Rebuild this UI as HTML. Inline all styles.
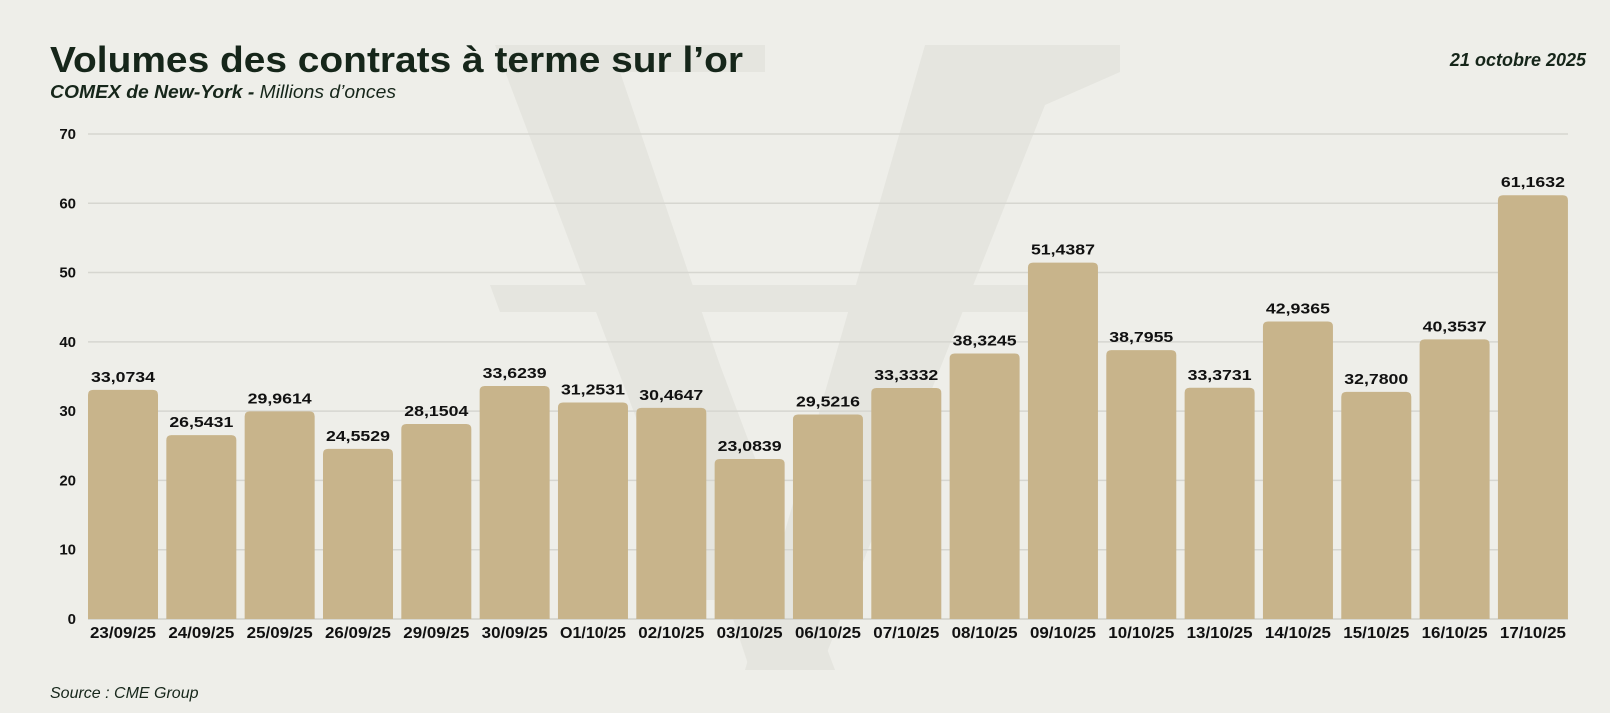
<!DOCTYPE html>
<html><head><meta charset="utf-8"><style>
html,body{margin:0;padding:0;background:#eeeee9;}
svg{display:block;}
text{font-family:"Liberation Sans",sans-serif;}
</style></head><body>
<svg width="1610" height="713" xmlns="http://www.w3.org/2000/svg">
<rect width="1610" height="713" fill="#eeeee9"/>
<g fill="#e5e5df">
<polygon points="495,45 765,45 765,72 620,72 800,600 705,600"/>
<polygon points="925,45 1120,45 1120,72 1045,105 820,670 745,670"/>
<polygon points="560,100 620,100 835,670 750,670"/>
<polygon points="490,285 1075,285 1068,312 500,312"/>
</g>
<text x="50" y="72" font-size="36" font-weight="bold" fill="#16261a" textLength="693" lengthAdjust="spacingAndGlyphs">Volumes des contrats à terme sur l’or</text>
<text x="50" y="98" font-size="18" font-style="italic" fill="#16261a" textLength="346" lengthAdjust="spacingAndGlyphs"><tspan font-weight="bold">COMEX de New-York - </tspan>Millions d’onces</text>
<text x="1586" y="66" font-size="18" font-weight="bold" font-style="italic" fill="#16261a" text-anchor="end">21 octobre 2025</text>
<g id="grid"></g>
<g id="bars"></g>
<text x="50" y="698" font-size="16" font-style="italic" fill="#16261a">Source : CME Group</text>
</svg>
<script>
var vals=[33.0734,26.5431,29.9614,24.5529,28.1504,33.6239,31.2531,30.4647,23.0839,29.5216,33.3332,38.3245,51.4387,38.7955,33.3731,42.9365,32.78,40.3537,61.1632];
var labs=["23/09/25","24/09/25","25/09/25","26/09/25","29/09/25","30/09/25","O1/10/25","02/10/25","03/10/25","06/10/25","07/10/25","08/10/25","09/10/25","10/10/25","13/10/25","14/10/25","15/10/25","16/10/25","17/10/25"];
var ns="http://www.w3.org/2000/svg",g=document.getElementById("grid"),b=document.getElementById("bars");
var y0=619,k=6.929;
function el(t,a,p,txt){var e=document.createElementNS(ns,t);for(var x in a)e.setAttribute(x,a[x]);if(txt!==undefined)e.textContent=txt;p.appendChild(e);return e;}
for(var i=0;i<=7;i++){var y=y0-i*10*k;
 el("line",{x1:88,x2:1568,y1:y,y2:y,stroke:i==0?"#cfcfc8":"#d6d6d0","stroke-width":1.5},g);
 el("text",{x:76,y:y+5,"font-size":15,"font-weight":"bold","text-anchor":"end",fill:"#111"},g,String(i*10));}
for(var i=0;i<vals.length;i++){var x=88+i*78.33,h=vals[i]*k,t=y0-h;
 el("path",{d:"M"+x+","+y0+"V"+(t+5)+"Q"+x+","+t+" "+(x+5)+","+t+"H"+(x+65)+"Q"+(x+70)+","+t+" "+(x+70)+","+(t+5)+"V"+y0+"Z",fill:"#c8b48b"},b);
 el("text",{x:x+35,y:t-8,"font-size":15,"font-weight":"bold","text-anchor":"middle",fill:"#111",textLength:64,lengthAdjust:"spacingAndGlyphs"},b,vals[i].toFixed(4).replace(".",","));
 el("text",{x:x+35,y:638,"font-size":15.5,"font-weight":"bold","text-anchor":"middle",fill:"#111",textLength:66,lengthAdjust:"spacingAndGlyphs"},b,labs[i]);}
</script>
</body></html>
